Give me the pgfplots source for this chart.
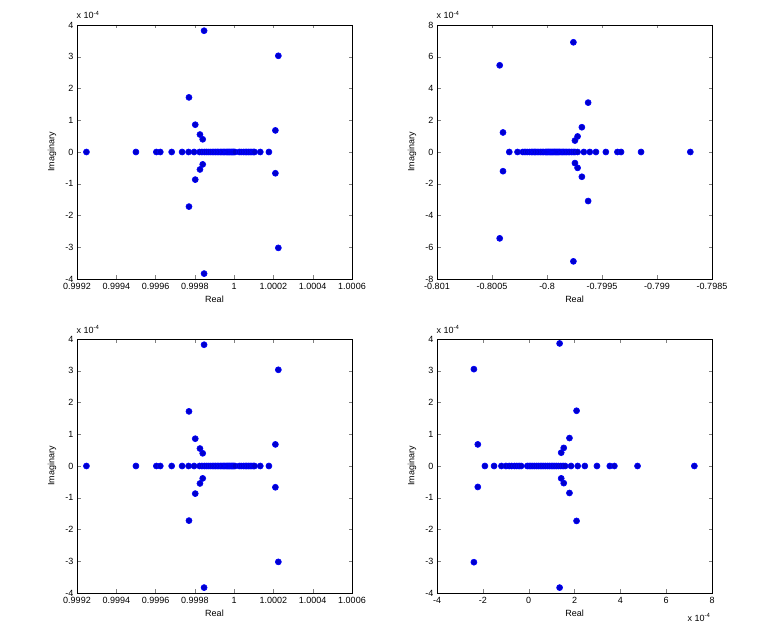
\documentclass[border=0pt]{standalone}
\usepackage{fontspec}
\setmainfont{Liberation Sans}
\usepackage{pgfplots}
\usepackage{pgfplotstable}
\pgfplotsset{compat=1.18}

% MATLAB style '*' marker (plus and cross on top of each other)
\pgfdeclareplotmark{mstar}{%
  \pgfpathmoveto{\pgfqpoint{-\pgfplotmarksize}{0pt}}\pgfpathlineto{\pgfqpoint{\pgfplotmarksize}{0pt}}%
  \pgfpathmoveto{\pgfqpoint{0pt}{-\pgfplotmarksize}}\pgfpathlineto{\pgfqpoint{0pt}{\pgfplotmarksize}}%
  \pgfpathmoveto{\pgfqpoint{-.7071\pgfplotmarksize}{-.7071\pgfplotmarksize}}\pgfpathlineto{\pgfqpoint{.7071\pgfplotmarksize}{.7071\pgfplotmarksize}}%
  \pgfpathmoveto{\pgfqpoint{-.7071\pgfplotmarksize}{.7071\pgfplotmarksize}}\pgfpathlineto{\pgfqpoint{.7071\pgfplotmarksize}{-.7071\pgfplotmarksize}}%
  \pgfusepathqstroke}

% x in units of 1e-4 as offset from 1, y in units of 1e-4
\pgfplotstableread{
x y
-7.52 0
-5.00 0
-3.96 0
-3.76 0
-3.18 0
-2.65 0
-2.32 0
-2.04 0
-1.76 0
-1.64 0
-1.52 0
-1.42 0
-1.32 0
-1.22 0
-1.12 0
-1.03 0
-0.94 0
-0.86 0
-0.78 0
-0.70 0
-0.62 0
-0.55 0
-0.48 0
-0.41 0
-0.35 0
-0.29 0
-0.23 0
-0.17 0
-0.12 0
-0.07 0
-0.02 0
0.04 0
0.26 0
0.36 0
0.47 0
0.56 0
0.64 0
0.72 0
0.81 0
0.90 0
0.98 0
1.04 0
1.33 0
1.77 0
-1.53 3.82
-1.53 -3.83
2.25 3.03
2.25 -3.02
-2.30 1.72
-2.30 -1.72
-1.98 0.86
-1.98 -0.87
-1.74 0.55
-1.74 -0.55
-1.60 0.40
-1.60 -0.39
2.10 0.68
2.10 -0.67
}\tabA

% x in units of 1e-4 as offset from -0.8, y in units of 1e-4
\pgfplotstableread{
x y
-3.43 0
-2.68 0
-2.20 0
-2.00 0
-1.80 0
-1.58 0
-1.42 0
-1.28 0
-1.15 0
-1.04 0
-0.90 0
-0.74 0
-0.60 0
-0.45 0
-0.30 0
-0.14 0
-0.04 0
0.06 0
0.16 0
0.26 0
0.36 0
0.46 0
0.56 0
0.66 0
0.76 0
0.86 0
0.96 0
1.06 0
1.16 0
1.28 0
1.40 0
1.52 0
1.64 0
1.78 0
1.92 0
2.06 0
2.22 0
2.38 0
2.54 0
2.78 0
3.35 0
3.89 0
4.45 0
5.35 0
6.40 0
6.73 0
8.55 0
13.03 0
2.40 6.91
2.40 -6.89
-4.30 5.46
-4.30 -5.44
-4.00 1.23
-4.00 -1.21
3.74 3.11
3.74 -3.09
3.17 1.56
3.17 -1.56
2.78 0.98
2.78 -1.00
2.54 0.72
2.54 -0.70
}\tabB

% x and y in units of 1e-4
\pgfplotstableread{
x y
-1.91 0
-1.51 0
-1.19 0
-0.99 0
-0.85 0
-0.74 0
-0.62 0
-0.52 0
-0.42 0
-0.33 0
-0.06 0
0.02 0
0.10 0
0.18 0
0.26 0
0.34 0
0.42 0
0.50 0
0.58 0
0.66 0
0.74 0
0.82 0
0.90 0
0.98 0
1.06 0
1.14 0
1.22 0
1.30 0
1.40 0
1.50 0
1.59 0
1.85 0
2.14 0
2.45 0
2.98 0
3.54 0
3.74 0
4.75 0
7.23 0
1.35 3.86
1.35 -3.83
-2.39 3.05
-2.39 -3.03
2.09 1.74
2.09 -1.73
-2.22 0.68
-2.22 -0.66
1.78 0.88
1.78 -0.85
1.53 0.57
1.53 -0.54
1.42 0.42
1.42 -0.39
}\tabC

\pgfplotsset{
  mlab/.style={
    scale only axis, width=275pt, height=254pt, anchor=south west,
    tick align=inside, major tick length=3.5pt,
    scaled ticks=false, clip mode=individual,
    ticklabel style={font=\fontsize{9}{10}\selectfont},
    xticklabel style={yshift=-1pt},
    label style={font=\fontsize{9}{10}\selectfont},
    xlabel={Real}, ylabel={Imaginary},
    xlabel style={at={(axis description cs:0.5,-0.079)}, anchor=center},
    ylabel style={at={(axis description cs:-0.091,0.5)}, anchor=center},
    every axis plot/.append style={only marks, mark=mstar, mark size=3pt,
      color=blue, line width=0.65pt},
  },
  ymA/.style={ymin=-4, ymax=4, ytick={-4,-3,...,4},
    yticklabels={-4,-3,-2,-1,0,1,2,3,4}},
  xmA/.style={xmin=-8, xmax=6, xtick={-8,-6,...,6},
    xticklabels={0.9992,0.9994,0.9996,0.9998,1,1.0002,1.0004,1.0006}},
}
\newcommand{\yexp}{\node[anchor=base west, font=\fontsize{9}{10}\selectfont, xshift=-4pt, yshift=6pt]
  at (axis description cs:0,1) {x 10\textsuperscript{-4}};}

\begin{document}
\begin{tikzpicture}
\path[use as bounding box] (0,0) rectangle (771pt,628pt);

% top left
\begin{axis}[mlab, xmA, ymA, at={(77pt,349pt)}]
\addplot table {\tabA};
\yexp
\end{axis}

% top right
\begin{axis}[mlab, at={(437pt,349pt)},
  xmin=-10, xmax=15, xtick={-10,-5,...,15},
  xticklabels={-0.801,-0.8005,-0.8,-0.7995,-0.799,-0.7985},
  ymin=-8, ymax=8, ytick={-8,-6,...,8},
  yticklabels={-8,-6,-4,-2,0,2,4,6,8}]
\addplot table {\tabB};
\yexp
\end{axis}

% bottom left
\begin{axis}[mlab, xmA, ymA, at={(77pt,35pt)}]
\addplot table {\tabA};
\yexp
\end{axis}

% bottom right
\begin{axis}[mlab, ymA, at={(437pt,35pt)},
  xmin=-4, xmax=8, xtick={-4,-2,...,8},
  xticklabels={-4,-2,0,2,4,6,8}]
\addplot table {\tabC};
\yexp
\node[anchor=center, font=\fontsize{9}{10}\selectfont]
  at (axis description cs:0.953,-0.098) {x 10\textsuperscript{-4}};
\end{axis}
\end{tikzpicture}
\end{document}
